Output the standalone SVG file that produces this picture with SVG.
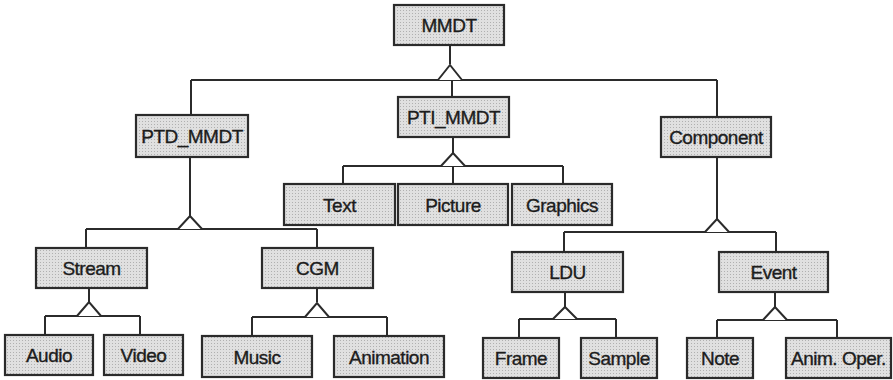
<svg xmlns="http://www.w3.org/2000/svg" width="893" height="380" viewBox="0 0 893 380">
<defs>
<pattern id="stip" width="3" height="3" patternUnits="userSpaceOnUse">
<rect width="3" height="3" fill="#e0e0e0"/>
<rect x="1" y="1" width="1" height="1" fill="#b0b0b0"/>
</pattern>
<style>
.n rect{fill:url(#stip);stroke:#2b2b2b;stroke-width:2.2}
.n text{font-family:"Liberation Sans",Arial,sans-serif;font-size:19px;fill:#1c1c1c;stroke:#1c1c1c;stroke-width:0.35;text-anchor:middle;letter-spacing:-0.5px}
#connectors path{fill:none;stroke:#2b2b2b;stroke-width:2}
#connectors polyline{fill:#fff;stroke:#2b2b2b;stroke-width:2;stroke-linejoin:miter}
</style>
</defs>
<rect width="893" height="380" fill="#fff"/>
<g id="connectors">
<path d="M450 45V64M191 80H717M191 80V115M452 80V97M717 80V117"/>
<polyline points="438,80 450,65 462,80"/>
<path d="M190 157V216M86 229H317M86 229V248M317 229V248"/>
<polyline points="178,229 190,216 202,229"/>
<path d="M453 137V153M343 166H563M343 166V184M453 166V184M563 166V184"/>
<polyline points="441,166 453,153 465,166"/>
<path d="M717 157V219M564 232H776M564 232V252M776 232V252"/>
<polyline points="705,232 717,219 729,232"/>
<path d="M89 288V302M45 316H140M45 316V335M140 316V335"/>
<polyline points="77,316 89,302 101,316"/>
<path d="M317 288V302M252 317H387M252 317V336M387 317V336"/>
<polyline points="305,317 317,303 329,317"/>
<path d="M565 292V307M519 319H616M519 319V338M616 319V338"/>
<polyline points="553,319 565,307 577,319"/>
<path d="M775 292V307M717 320H837M717 320V338M837 320V338"/>
<polyline points="763,320 775,307 787,320"/>
</g>
<g id="mmdt" class="n"><rect x="394" y="5" width="110" height="40"/><text x="449" y="32">MMDT</text></g>
<g id="ptd_mmdt" class="n"><rect x="136" y="115" width="112" height="42"/><text x="192" y="143">PTD_MMDT</text></g>
<g id="pti_mmdt" class="n"><rect x="398" y="97" width="111" height="40"/><text x="453.5" y="124">PTI_MMDT</text></g>
<g id="component" class="n"><rect x="661" y="117" width="110" height="40"/><text x="716" y="144">Component</text></g>
<g id="text" class="n"><rect x="284" y="184" width="111" height="41"/><text x="339.5" y="211.5">Text</text></g>
<g id="picture" class="n"><rect x="398" y="184" width="110" height="41"/><text x="453" y="211.5">Picture</text></g>
<g id="graphics" class="n"><rect x="512" y="184" width="100" height="41"/><text x="562" y="211.5">Graphics</text></g>
<g id="stream" class="n"><rect x="36" y="248" width="111" height="40"/><text x="91.5" y="275">Stream</text></g>
<g id="cgm" class="n"><rect x="262" y="248" width="111" height="40"/><text x="317.5" y="275">CGM</text></g>
<g id="ldu" class="n"><rect x="512" y="252" width="111" height="40"/><text x="567.5" y="279">LDU</text></g>
<g id="event" class="n"><rect x="719" y="252" width="109" height="40"/><text x="773.5" y="279">Event</text></g>
<g id="audio" class="n"><rect x="5" y="335" width="88" height="40"/><text x="49" y="362">Audio</text></g>
<g id="video" class="n"><rect x="104" y="335" width="79" height="40"/><text x="143.5" y="362">Video</text></g>
<g id="music" class="n"><rect x="202" y="336" width="110" height="41"/><text x="257" y="363.5">Music</text></g>
<g id="animation" class="n"><rect x="334" y="336" width="110" height="41"/><text x="389" y="363.5">Animation</text></g>
<g id="frame" class="n"><rect x="483" y="338" width="76" height="40"/><text x="521" y="365">Frame</text></g>
<g id="sample" class="n"><rect x="581" y="338" width="76" height="40"/><text x="619" y="365">Sample</text></g>
<g id="note" class="n"><rect x="687" y="338" width="66" height="40"/><text x="720" y="365">Note</text></g>
<g id="anim_oper" class="n"><rect x="786" y="338" width="105" height="40"/><text x="838.5" y="365">Anim. Oper.</text></g>
</svg>
